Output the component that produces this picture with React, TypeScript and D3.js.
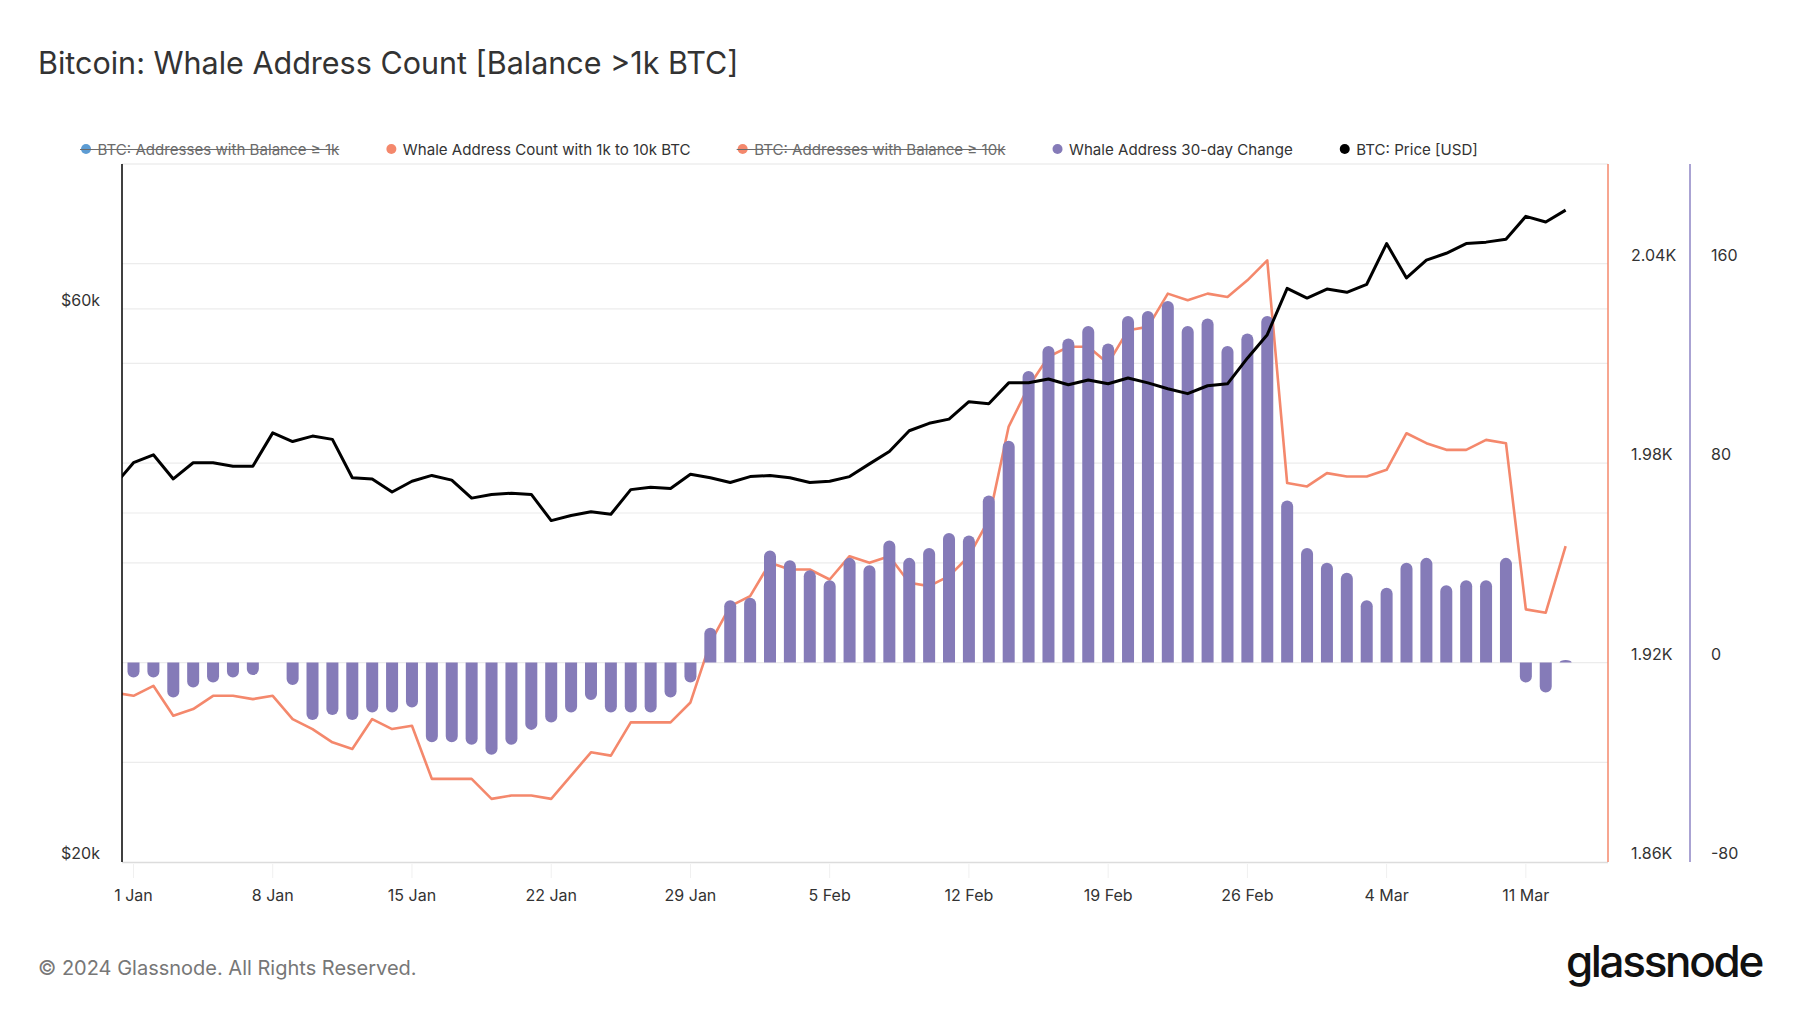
import React, { useEffect, useRef } from "react";
import * as d3 from "d3";

// ---------- DATA ----------
// Daily dates: 31 Dec 2023 .. 13 Mar 2024
const FIRST_DAY = "2023-12-31";
const LAST_DAY = "2024-03-13";

// BTC price (USD thousands), 31 Dec .. 13 Mar
const priceK = [
  42.2, 44.2, 44.9, 42.8, 44.2, 44.2, 43.9, 43.9, 46.9, 46.1, 46.6, 46.3, 42.9, 42.8, 41.7, 42.6,
  43.1, 42.7, 41.2, 41.5, 41.6, 41.5, 39.4, 39.8, 40.1, 39.9, 41.9, 42.1, 42.0, 43.2, 42.9, 42.5,
  43.0, 43.1, 42.9, 42.5, 42.6, 43.0, 44.1, 45.2, 47.1, 47.8, 48.2, 49.9, 49.7, 51.8, 51.8, 52.2,
  51.6, 52.1, 51.7, 52.3, 51.8, 51.2, 50.7, 51.5, 51.7, 54.4, 57.0, 62.5, 61.3, 62.4, 62.0, 63.0,
  68.3, 63.8, 66.1, 67.0, 68.3, 68.5, 68.9, 72.1, 71.3, 73.0,
];

// Whale Address Count with 1k to 10k BTC, 31 Dec .. 13 Mar
const whaleCount = [
  1911, 1910, 1913, 1904, 1906, 1910, 1910, 1909, 1910, 1903, 1900, 1896, 1894, 1903, 1900, 1901,
  1885, 1885, 1885, 1879, 1880, 1880, 1879, 1886, 1893, 1892, 1902, 1902, 1902, 1908, 1926, 1937,
  1940, 1950, 1948, 1948, 1945, 1952, 1950, 1952, 1944, 1943, 1946, 1952, 1963, 1991, 2003, 2012,
  2015, 2015, 2010, 2020, 2021, 2031, 2029, 2031, 2030, 2035, 2041, 1974, 1973, 1977, 1976, 1976,
  1978, 1989, 1986, 1984, 1984, 1987, 1986, 1936, 1935, 1955,
];

// Whale Address 30-day Change, 1 Jan .. 13 Mar
const change30d = [
  -6, -6, -14, -10, -8, -6, -5, 0, -9, -23, -21, -23, -20, -20, -18, -32,
  -32, -33, -37, -33, -27, -24, -20, -15, -20, -20, -20, -14, -8, 14, 25, 26,
  45, 41, 37, 33, 42, 39, 49, 42, 46, 52, 51, 67, 89, 117, 127, 130,
  135, 128, 139, 141, 145, 135, 138, 127, 132, 139, 65, 46, 40, 36, 25, 30,
  40, 42, 31, 33, 33, 42, -8, -12, 1,
];

const xTickDates = [
  "2024-01-01", "2024-01-08", "2024-01-15", "2024-01-22", "2024-01-29", "2024-02-05",
  "2024-02-12", "2024-02-19", "2024-02-26", "2024-03-04", "2024-03-11",
];
const priceGridTicks = [40000, 60000];
const priceLabelTicks = [20000, 60000];
const countGridTicks = [1890, 1920, 1950, 1980, 2010, 2040];
const countLabelTicks = [1860, 1920, 1980, 2040];
const changeLabelTicks = [-80, 0, 80, 160];

const legendLabels = [
  "BTC: Addresses with Balance \u2265 1k",
  "Whale Address Count with 1k to 10k BTC",
  "BTC: Addresses with Balance \u2265 10k",
  "Whale Address 30-day Change",
  "BTC: Price [USD]",
];
const legendHidden = [true, false, true, false, false];

// ---------- STYLE ----------
const W = 1800;
const H = 1013;
const FONT = "Inter, 'Noto Sans', 'DejaVu Sans', sans-serif";
const COL_ORANGE = "#F4886C";
const COL_PURPLE = "#857BB8";
const COL_PURPLE_AXIS = "#8E85C4";
const COL_BLUE = "#5D9CD3";
const COL_PRICE = "#000000";
const legendColors = [COL_BLUE, COL_ORANGE, COL_ORANGE, COL_PURPLE, COL_PRICE];

const PLOT = { left: 122, right: 1608, top: 164, bottom: 862 };
const AXIS2_X = 1690;
const DAY = 86400000;

export default function App() {
  const ref = useRef<SVGSVGElement | null>(null);

  useEffect(() => {
    const svg = d3.select(ref.current);
    svg.selectAll("*").remove();

    const parse = d3.utcParse("%Y-%m-%d");
    const dates = d3.utcDay.range(parse(FIRST_DAY)!, d3.utcDay.offset(parse(LAST_DAY)!, 1));
    const jan1 = parse("2024-01-01")!.getTime();

    const x = d3
      .scaleUtc()
      .domain([new Date(jan1 - 0.578 * DAY), new Date(jan1 + 74.13 * DAY)])
      .range([PLOT.left, PLOT.right]);
    const yPrice = d3.scaleLog().domain([20000, 80000]).range([PLOT.bottom, PLOT.top]);
    const yCount = d3.scaleLinear().domain([1860, 2070]).range([PLOT.bottom, PLOT.top]);
    const yChange = d3.scaleLinear().domain([-80, 200]).range([PLOT.bottom, PLOT.top]);

    // Title
    svg
      .append("text")
      .attr("x", 38)
      .attr("y", 74)
      .attr("font-family", FONT)
      .attr("font-size", 30.5)
      .attr("fill", "#333")
      .text("Bitcoin: Whale Address Count [Balance >1k BTC]");

    // Legend
    const lg = svg.append("g");
    let cx = 86;
    legendLabels.forEach((label, i) => {
      lg.append("circle").attr("cx", cx).attr("cy", 149).attr("r", 5).attr("fill", legendColors[i]);
      const t = lg
        .append("text")
        .attr("x", cx + 11.5)
        .attr("y", 154.5)
        .attr("font-family", FONT)
        .attr("font-size", 15.1)
        .attr("fill", legendHidden[i] ? "#6b6b6b" : "#333")
        .text(label);
      const w = (t.node() as SVGTextElement).getComputedTextLength();
      if (legendHidden[i]) {
        lg.append("line")
          .attr("x1", cx - 6)
          .attr("x2", cx + 11.5 + w)
          .attr("y1", 149.5)
          .attr("y2", 149.5)
          .attr("stroke", "#6b6b6b")
          .attr("stroke-width", 1);
      }
      cx = cx + 11.5 + w + 52;
    });

    // Grid
    const grid = svg.append("g").attr("stroke", "#ececec").attr("stroke-width", 1.2);
    countGridTicks.forEach((v) => {
      grid.append("line").attr("x1", PLOT.left).attr("x2", PLOT.right).attr("y1", yCount(v)).attr("y2", yCount(v));
    });
    priceGridTicks.forEach((v) => {
      grid.append("line").attr("x1", PLOT.left).attr("x2", PLOT.right).attr("y1", yPrice(v)).attr("y2", yPrice(v));
    });
    grid.append("line").attr("x1", PLOT.left).attr("x2", PLOT.right).attr("y1", PLOT.top).attr("y2", PLOT.top).attr("stroke", "#e6e6e6");

    // Clip
    svg
      .append("clipPath")
      .attr("id", "plotclip")
      .append("rect")
      .attr("x", PLOT.left)
      .attr("y", PLOT.top - 2)
      .attr("width", PLOT.right - PLOT.left)
      .attr("height", PLOT.bottom - PLOT.top + 4);

    const plot = svg.append("g").attr("clip-path", "url(#plotclip)");

    // Orange line
    const lineCount = d3
      .line<number>()
      .x((_, i) => x(dates[i]))
      .y((d) => yCount(d));
    plot
      .append("path")
      .attr("d", lineCount(whaleCount)!)
      .attr("fill", "none")
      .attr("stroke", COL_ORANGE)
      .attr("stroke-width", 2.6)
      .attr("stroke-linejoin", "round");

    // Bars
    const barW = 12;
    const y0 = yChange(0);
    change30d.forEach((v, i) => {
      if (!v) return;
      const cxb = x(dates[i + 1]);
      const y1 = yChange(v);
      const h = Math.abs(y1 - y0);
      const rx = barW / 2;
      const ry = Math.min(rx, h);
      const l = cxb - rx;
      const r = cxb + rx;
      let d;
      if (y1 < y0) {
        d = `M${l},${y0} V${y1 + ry} A${rx},${ry} 0 0 1 ${r},${y1 + ry} V${y0} Z`;
      } else {
        d = `M${l},${y0} V${y1 - ry} A${rx},${ry} 0 0 0 ${r},${y1 - ry} V${y0} Z`;
      }
      plot.append("path").attr("d", d).attr("fill", COL_PURPLE);
    });

    // Price line
    const linePrice = d3
      .line<number>()
      .x((_, i) => x(dates[i]))
      .y((d) => yPrice(d * 1000));
    plot
      .append("path")
      .attr("d", linePrice(priceK)!)
      .attr("fill", "none")
      .attr("stroke", COL_PRICE)
      .attr("stroke-width", 3)
      .attr("stroke-linejoin", "round");

    // Bottom border
    svg
      .append("line")
      .attr("x1", PLOT.left)
      .attr("x2", PLOT.right)
      .attr("y1", PLOT.bottom + 0.5)
      .attr("y2", PLOT.bottom + 0.5)
      .attr("stroke", "#dcdcdc")
      .attr("stroke-width", 1.5);

    // Left axis
    svg
      .append("line")
      .attr("x1", PLOT.left)
      .attr("x2", PLOT.left)
      .attr("y1", PLOT.top)
      .attr("y2", PLOT.bottom)
      .attr("stroke", "#000")
      .attr("stroke-width", 1.5);
    const fmtPrice = (v: number) => `$${v / 1000}k`;
    priceLabelTicks.forEach((v) => {
      svg
        .append("text")
        .attr("x", 100)
        .attr("y", yPrice(v) - 3)
        .attr("text-anchor", "end")
        .attr("font-family", FONT)
        .attr("font-size", 16)
        .attr("fill", "#333")
        .text(fmtPrice(v));
    });

    // Right axes
    svg
      .append("line")
      .attr("x1", PLOT.right)
      .attr("x2", PLOT.right)
      .attr("y1", PLOT.top)
      .attr("y2", PLOT.bottom)
      .attr("stroke", COL_ORANGE)
      .attr("stroke-width", 1.5);
    svg
      .append("line")
      .attr("x1", AXIS2_X)
      .attr("x2", AXIS2_X)
      .attr("y1", PLOT.top)
      .attr("y2", PLOT.bottom)
      .attr("stroke", COL_PURPLE_AXIS)
      .attr("stroke-width", 1.5);
    const fmtCount = (v: number) => `${(v / 1000).toFixed(2)}K`;
    countLabelTicks.forEach((v) => {
      svg
        .append("text")
        .attr("x", 1631)
        .attr("y", yCount(v) - 3)
        .attr("font-family", FONT)
        .attr("font-size", 16)
        .attr("fill", "#333")
        .text(fmtCount(v));
    });
    changeLabelTicks.forEach((v) => {
      svg
        .append("text")
        .attr("x", 1711)
        .attr("y", yChange(v) - 3)
        .attr("font-family", FONT)
        .attr("font-size", 16)
        .attr("fill", "#333")
        .text(String(v));
    });

    // X axis
    const fmtDate = d3.utcFormat("%-d %b");
    xTickDates.forEach((s) => {
      const dt = parse(s)!;
      const xx = x(dt);
      svg
        .append("line")
        .attr("x1", xx)
        .attr("x2", xx)
        .attr("y1", PLOT.bottom + 2)
        .attr("y2", PLOT.bottom + 16)
        .attr("stroke", "#f0f0f0")
        .attr("stroke-width", 1);
      svg
        .append("text")
        .attr("x", xx)
        .attr("y", 901)
        .attr("text-anchor", "middle")
        .attr("font-family", FONT)
        .attr("font-size", 16)
        .attr("fill", "#333")
        .text(fmtDate(dt));
    });

    // Footer
    svg
      .append("text")
      .attr("x", 38)
      .attr("y", 975)
      .attr("font-family", FONT)
      .attr("font-size", 20)
      .attr("fill", "#777")
      .text("\u00A9 2024 Glassnode. All Rights Reserved.");
    svg
      .append("text")
      .attr("x", 1762)
      .attr("y", 977)
      .attr("text-anchor", "end")
      .attr("font-family", FONT)
      .attr("font-size", 44)
      .attr("font-weight", 500)
      .attr("letter-spacing", -2.3)
      .attr("fill", "#111")
      .text("glassnode");
  }, []);

  return (
    <svg
      ref={ref}
      width={W}
      height={H}
      viewBox={`0 0 ${W} ${H}`}
      style={{ position: "absolute", left: 0, top: 0, background: "#fff" }}
    />
  );
}
